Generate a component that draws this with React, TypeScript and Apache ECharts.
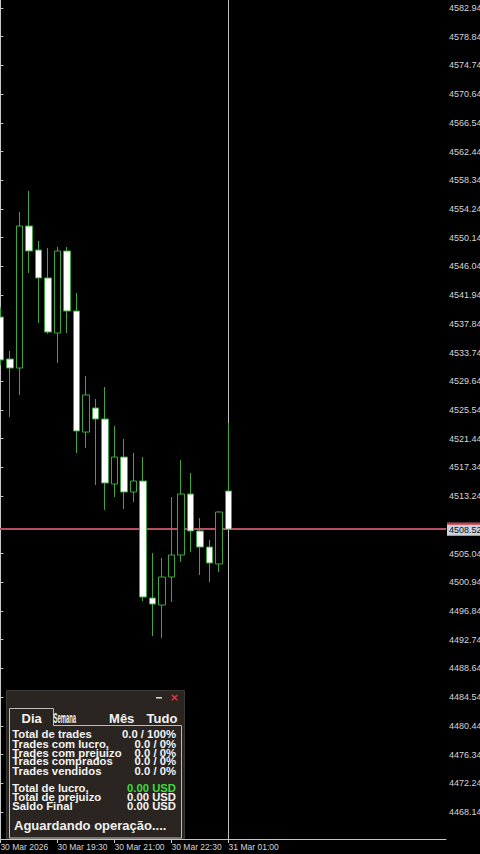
import { useEffect, useRef } from 'react';
import * as echarts from 'echarts';

// ---- data (M15 candles) ----
const times = [
  '30 Mar 18:00', '30 Mar 18:15', '30 Mar 18:30', '30 Mar 18:45', '30 Mar 19:00', '30 Mar 19:15',
  '30 Mar 19:30', '30 Mar 19:45', '30 Mar 20:00', '30 Mar 20:15', '30 Mar 20:30', '30 Mar 20:45',
  '30 Mar 21:00', '30 Mar 21:15', '30 Mar 21:30', '30 Mar 21:45', '30 Mar 22:00', '30 Mar 22:15',
  '30 Mar 22:30', '30 Mar 22:45', '30 Mar 23:00', '30 Mar 23:15', '30 Mar 23:30', '30 Mar 23:45',
  '31 Mar 01:00',
];
const opens = [
  4538.82, 4532.82, 4531.53, 4551.81, 4548.38, 4544.39, 4536.53, 4548.24, 4539.67, 4522.39,
  4525.82, 4524.25, 4514.97, 4518.82, 4513.83, 4515.40, 4498.69, 4497.69, 4501.69, 4504.83,
  4513.54, 4508.26, 4505.97, 4503.55, 4513.97,
];
const closes = [
  4532.68, 4531.53, 4551.81, 4548.24, 4544.39, 4536.67, 4548.24, 4539.67, 4522.54, 4527.68,
  4524.25, 4515.11, 4518.82, 4513.83, 4515.40, 4498.83, 4497.83, 4501.69, 4504.83, 4513.54,
  4508.26, 4505.97, 4503.69, 4510.97, 4508.52,
];
const lows = [
  4531.90, 4524.54, 4527.68, 4545.10, 4537.96, 4536.40, 4532.25, 4536.53, 4519.40, 4520.11,
  4514.83, 4511.26, 4513.11, 4511.40, 4512.40, 4498.26, 4493.26, 4492.98, 4498.12, 4503.83,
  4505.26, 4501.97, 4500.97, 4502.40, 4508.40,
];
const highs = [
  4540.20, 4533.96, 4553.81, 4556.81, 4549.67, 4548.67, 4548.81, 4548.81, 4542.24, 4530.39,
  4527.11, 4528.82, 4523.25, 4521.39, 4519.40, 4518.82, 4505.12, 4504.40, 4513.11, 4518.40,
  4516.54, 4510.11, 4506.97, 4511.10, 4523.68,
];
const lastPrice = 4508.52;

const priceTicks = [
  4468.14, 4472.24, 4476.34, 4480.44, 4484.54, 4488.64, 4492.74, 4496.84, 4500.94, 4505.04,
  4513.24, 4517.34, 4521.44, 4525.54, 4529.64, 4533.74, 4537.84, 4541.94, 4546.04,
  4550.14, 4554.24, 4558.34, 4562.44, 4566.54, 4570.64, 4574.74, 4578.84, 4582.94,
];
const timeTickIndex = [0, 6, 12, 18, 24];
const timeTickText = ['30 Mar 2026', '30 Mar 19:30', '30 Mar 21:00', '30 Mar 22:30', '31 Mar 01:00'];

const tabs = ['Dia', 'Semana', 'Mês', 'Tudo'];
const statLabels = ['Total de trades', 'Trades com lucro,', 'Trades com prejuizo', 'Trades comprados', 'Trades vendidos'];
const statValues = ['0.0 / 100%', '0.0 / 0%', '0.0 / 0%', '0.0 / 0%', '0.0 / 0%'];
const moneyLabels = ['Total de lucro,', 'Total de prejuizo', 'Saldo Final'];
const moneyValues = ['0.00 USD', '0.00 USD', '0.00 USD'];
const statusText = 'Aguardando operação....';

const GREEN = '#3aa83a';
const AXIS = '#c8c8c8';
const LABEL = '#d6d6d6';
const FONT = '"Liberation Sans", Arial, sans-serif';

function buildPanel() {
  const els: any[] = [];
  const txt = (text: string, x: number, y: number, font: string, fill: string, align = 'left', extra: any = {}) => ({
    type: 'text', x, y, z: 101, silent: true, ...extra,
    style: { text, fill, font, align, verticalAlign: 'middle' },
  });
  els.push({ type: 'rect', z: 100, silent: true, shape: { x: 6.5, y: 690.5, width: 178, height: 148 }, style: { fill: '#2a2521', stroke: '#3d3934', lineWidth: 1 } });
  els.push({ type: 'rect', z: 101, silent: true, shape: { x: 156, y: 697, width: 6, height: 1.6 }, style: { fill: '#d0d0d0' } });
  els.push(txt('×', 174.3, 697.8, `bold 11px "DejaVu Sans"`, '#e4343c', 'center'));
  els.push({
    type: 'polyline', z: 101, silent: true,
    shape: { points: [[9.5, 838], [9.5, 708.5], [53.5, 708.5], [53.5, 725.5], [181.5, 725.5], [181.5, 838], [9.5, 838]] },
    style: { stroke: '#bdbdbd', lineWidth: 1, fill: 'none' },
  });
  const tabFont = `bold 13px ${FONT}`;
  els.push(txt(tabs[0], 31.7, 718, tabFont, '#f4f4f4', 'center'));
  els.push(txt(tabs[1], 53.5, 718, `bold 14px ${FONT}`, '#f4f4f4', 'left', { scaleX: 0.42 }));
  els.push(txt(tabs[2], 121.7, 718, tabFont, '#f4f4f4', 'center'));
  els.push(txt(tabs[3], 162, 718, tabFont, '#f4f4f4', 'center'));

  const bodyFont = `bold 11.3px ${FONT}`;
  const statY = [734.3, 744, 752.7, 761.3, 770.7];
  statLabels.forEach((l, i) => {
    els.push(txt(l, 12.3, statY[i], bodyFont, '#f4f4f4'));
    els.push(txt(statValues[i], 176, statY[i], bodyFont, '#f4f4f4', 'right'));
  });
  const moneyY = [788.3, 797.3, 805.7];
  moneyLabels.forEach((l, i) => {
    els.push(txt(l, 12.3, moneyY[i], bodyFont, '#f4f4f4'));
    els.push(txt(moneyValues[i], 176, moneyY[i], bodyFont, i === 0 ? '#3ddc3d' : '#f4f4f4', 'right'));
  });
  els.push(txt(statusText, 14, 825, `bold 13px ${FONT}`, '#f0f0f0'));
  return els;
}

function buildOption(): any {
  const candles = times.map((_, i) => [i, opens[i], closes[i], lows[i], highs[i]]);
  return {
    animation: false,
    backgroundColor: '#000000',
    grid: { left: 0, top: 0, right: 34, bottom: 15, containLabel: false, outerBoundsMode: 'none' },
    xAxis: {
      type: 'value',
      min: -0.04,
      max: 46.86,
      axisLine: { show: true, lineStyle: { color: AXIS, width: 1 } },
      axisTick: { show: true, customValues: timeTickIndex, length: 4, lineStyle: { color: AXIS } },
      axisLabel: {
        show: true,
        customValues: timeTickIndex,
        align: 'left',
        margin: 3,
        color: LABEL,
        fontSize: 8.5,
        fontFamily: FONT,
        formatter: (v: number) => {
          const k = timeTickIndex.indexOf(Math.round(v));
          return k >= 0 ? timeTickText[k] : '';
        },
      },
      splitLine: { show: false },
    },
    yAxis: {
      type: 'value',
      position: 'right',
      scale: true,
      min: 4464.28,
      max: 4584.08,
      axisLine: { show: true, lineStyle: { color: AXIS, width: 1 } },
      axisTick: { show: true, inside: false, length: 3, customValues: priceTicks, lineStyle: { color: AXIS } },
      axisLabel: {
        show: true,
        customValues: priceTicks,
        margin: 3,
        color: LABEL,
        fontSize: 9,
        fontFamily: FONT,
        formatter: (v: number) => v.toFixed(2),
      },
      splitLine: { show: false },
    },
    series: [
      {
        type: 'candlestick',
        data: candles,
        encode: { x: 0, y: [1, 2, 3, 4] },
        barWidth: 7,
        clip: true,
        z: 3,
        itemStyle: {
          color: '#000000',
          color0: '#ffffff',
          borderColor: GREEN,
          borderColor0: GREEN,
          borderWidth: 1,
        },
        markLine: {
          silent: true,
          symbol: ['none', 'none'],
          z: 1,
          animation: false,
          data: [
            {
              yAxis: lastPrice,
              lineStyle: { color: '#b4505f', width: 2, type: 'solid' },
              label: {
                show: true,
                position: 'end',
                distance: 1,
                backgroundColor: '#c9d3df',
                padding: 0,
                formatter: () => `{a|}\n{b|${lastPrice.toFixed(2)}}`,
                rich: {
                  a: { width: 36, height: 2, backgroundColor: '#e0303a' },
                  b: { fontSize: 9, fontFamily: FONT, color: '#111111', lineHeight: 11, padding: [0, 0, 0, 2] },
                },
              },
            },
            {
              xAxis: 24,
              lineStyle: { color: '#c4c4c4', width: 1, type: 'solid' },
              label: { show: false },
            },
          ],
        },
      },
    ],
    graphic: { elements: buildPanel() },
  };
}

export default function App() {
  const ref = useRef<HTMLDivElement>(null);
  useEffect(() => {
    document.body.style.margin = '0';
    document.body.style.overflow = 'hidden';
    document.documentElement.style.overflow = 'hidden';
    const chart = echarts.init(ref.current as HTMLDivElement, null, { renderer: 'svg', width: 480, height: 854 });
    chart.setOption(buildOption());
    return () => chart.dispose();
  }, []);
  return (
    <div
      ref={ref}
      style={{ position: 'fixed', left: 0, top: 0, width: 480, height: 854, background: '#000' }}
    />
  );
}
